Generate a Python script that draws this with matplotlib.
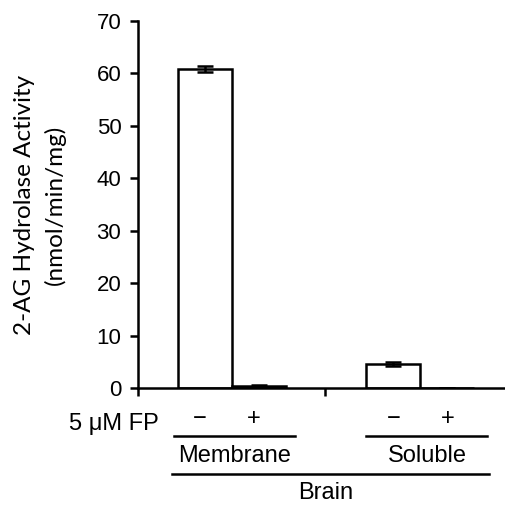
import matplotlib
matplotlib.use('Agg')
import matplotlib.pyplot as plt

# data
groups = ['Membrane', 'Soluble']
fp_labels = ['\u2212', '+', '\u2212', '+']
activity = [60.9, 0.45, 4.6, 0.0]
errors = [0.6, 0.2, 0.35, 0.0]
yticks = [0, 10, 20, 30, 40, 50, 60, 70]

plt.rcParams['font.family'] = ['Liberation Sans', 'DejaVu Sans']
FS = 17
LW = 1.8

fig = plt.figure(figsize=(5.05, 5.05), dpi=100)
ax = fig.add_axes([138/505, 117/505, 367/505, 367/505])

xpos = [0, 1, 3.47, 4.47]
ax.bar(xpos, activity, width=1.0, color='white', edgecolor='black', linewidth=LW)
ax.errorbar(xpos, activity, yerr=errors, fmt='none', ecolor='black',
            elinewidth=LW, capsize=5.5, capthick=LW)

ax.set_xlim(-1.24, 5.55)
ax.set_ylim(0, 70)
ax.set_yticks(yticks)
ax.tick_params(axis='y', labelsize=16, width=LW, length=6, direction='out', pad=6)
mid = 2.22
ax.set_xticks([-1.24, mid])
ax.set_xticklabels([])
ax.tick_params(axis='x', width=LW, length=6, direction='out')
for s in ['top', 'right']:
    ax.spines[s].set_visible(False)
ax.spines['left'].set_linewidth(LW)
ax.spines['bottom'].set_linewidth(LW)

# x in data units, y in pixels below the top of the figure
trans = ax.get_xaxis_transform()
def yf(py):
    return (388 - py) / 367

ax.text(-0.85, yf(430), '5 \u03bcM FP', transform=trans, ha='right', va='baseline',
        fontsize=FS, clip_on=False)
sign_shift = [-0.1, -0.1, 0.03, 0.03]
for x, dx, lab in zip(xpos, sign_shift, fp_labels):
    ax.text(x + dx, yf(425), lab, transform=trans, ha='center', va='baseline',
            fontsize=FS, clip_on=False)

spans = [(-0.57, 1.67), (2.98, 5.22)]
centers = [0.54, 4.11]
for (a, b), c, g in zip(spans, centers, groups):
    ax.plot([a, b], [yf(436)] * 2, transform=trans, color='black',
            lw=LW, clip_on=False)
    ax.text(c, yf(462), g, transform=trans, ha='center', va='baseline',
            fontsize=FS, clip_on=False)

ax.plot([-0.61, 5.26], [yf(474)] * 2, transform=trans,
        color='black', lw=LW, clip_on=False)
ax.text(2.24, yf(499), 'Brain', transform=trans, ha='center', va='baseline',
        fontsize=FS, clip_on=False)

fig.text(40/505, 1 - 205/505, '2-AG Hydrolase Activity\n(nmol/min/mg)',
         rotation=90, ha='center', va='center', fontsize=17.5, linespacing=1.45,
         family=['Lato', 'DejaVu Sans'])

fig.savefig('out.png', dpi=100)
